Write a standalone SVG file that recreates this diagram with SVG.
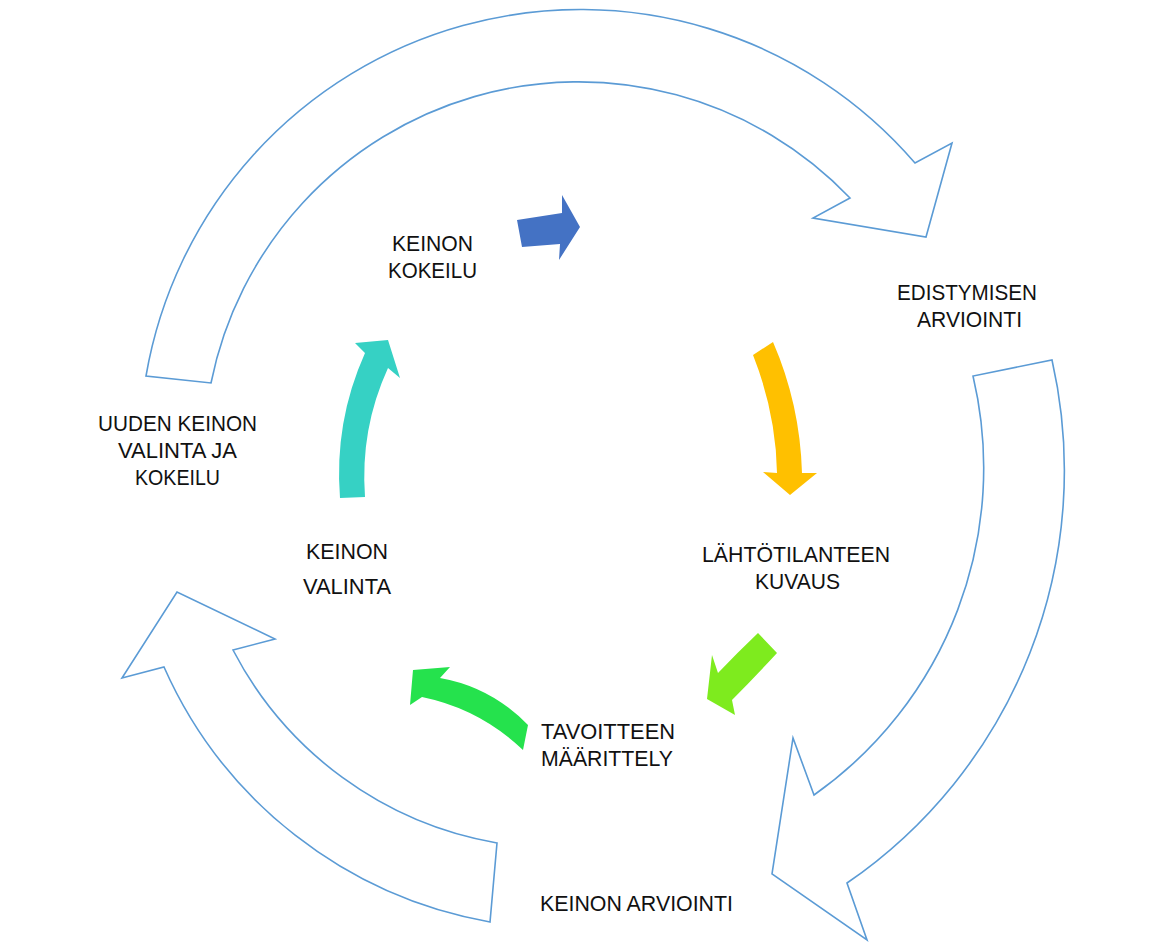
<svg xmlns="http://www.w3.org/2000/svg" width="1173" height="943" viewBox="0 0 1173 943">
<style>
.big{fill:#fff;stroke:#5B9BD5;stroke-width:1.6;stroke-linejoin:miter}
.t{font-family:"Liberation Sans Narrow","Liberation Sans",Arial,sans-serif;font-size:22px;fill:#111}
</style>
<rect width="1173" height="943" fill="#fff"/>
<g id="connectors">
<path id="cycle-top" class="big" d="M146,376 A441,441 0 0 1 915,163 L952,143 L926,237 L813,218 L850,198 A375,375 0 0 0 211,383 Z"/>
<path id="cycle-right" class="big" d="M1052,360 A500,500 0 0 1 847,883 L867,940 L772,874 L793,738 L814,795 A400,400 0 0 0 973,376 Z"/>
<path id="cycle-left" class="big" d="M490,922 A440,440 0 0 1 164,667 L122,678 L177,592 L275,639 L233,650 A368,368 0 0 0 497,843 Z"/>
<path id="arrow-blue" fill="#4472C4" d="M517,220 L562,213 L562,195 L580,227 L559,260 L560,244 L522,247 Z"/>
<path id="arrow-orange" fill="#FFC000" d="M753,355 L773,342 Q800,404 802,473 L817,473 L790,495 L763,472 L777,473 Q776,413 753,355 Z"/>
<path id="arrow-lime" fill="#7EEB1E" d="M758,633 L777,653 Q755,677 732,700 L735,715 L707,699 L712,655 L718,673 Q738,652 758,633 Z"/>
<path id="arrow-green" fill="#25E24D" d="M413,670 L450,667 L440,678 Q491,687 528,725 L523,750 Q480,709 422,697 L410,705 Z"/>
<path id="arrow-teal" fill="#36D1C4" d="M340,498 L365,497 Q360,429 388,368 L400,378 L388,340 L355,343 L365,353 Q334,422 340,498 Z"/>
</g>
<g id="node-keinon-kokeilu">
<text class="t" x="392" y="251" textLength="81" lengthAdjust="spacingAndGlyphs">KEINON</text>
<text class="t" x="388" y="278" textLength="89" lengthAdjust="spacingAndGlyphs">KOKEILU</text>
</g>
<g id="node-edistymisen-arviointi">
<text class="t" x="897" y="300" textLength="140" lengthAdjust="spacingAndGlyphs">EDISTYMISEN</text>
<text class="t" x="917" y="327" textLength="105" lengthAdjust="spacingAndGlyphs">ARVIOINTI</text>
</g>
<g id="node-uuden-keinon">
<text class="t" x="98" y="431" textLength="159" lengthAdjust="spacingAndGlyphs">UUDEN KEINON</text>
<text class="t" x="118" y="458" textLength="119" lengthAdjust="spacingAndGlyphs">VALINTA JA</text>
<text class="t" x="135" y="485" textLength="85" lengthAdjust="spacingAndGlyphs">KOKEILU</text>
</g>
<g id="node-lahtotilanteen">
<text class="t" x="702" y="562" textLength="188" lengthAdjust="spacingAndGlyphs">LÄHTÖTILANTEEN</text>
<text class="t" x="755" y="589" textLength="85" lengthAdjust="spacingAndGlyphs">KUVAUS</text>
</g>
<g id="node-tavoitteen">
<text class="t" x="541" y="739" textLength="134" lengthAdjust="spacingAndGlyphs">TAVOITTEEN</text>
<text class="t" x="541" y="766" textLength="132" lengthAdjust="spacingAndGlyphs">MÄÄRITTELY</text>
</g>
<g id="node-keinon-valinta">
<text class="t" x="306" y="559" textLength="82" lengthAdjust="spacingAndGlyphs">KEINON</text>
<text class="t" x="303" y="594" textLength="88" lengthAdjust="spacingAndGlyphs">VALINTA</text>
</g>
<g id="node-keinon-arviointi">
<text class="t" x="540" y="911" textLength="193" lengthAdjust="spacingAndGlyphs">KEINON ARVIOINTI</text>
</g>
</svg>
